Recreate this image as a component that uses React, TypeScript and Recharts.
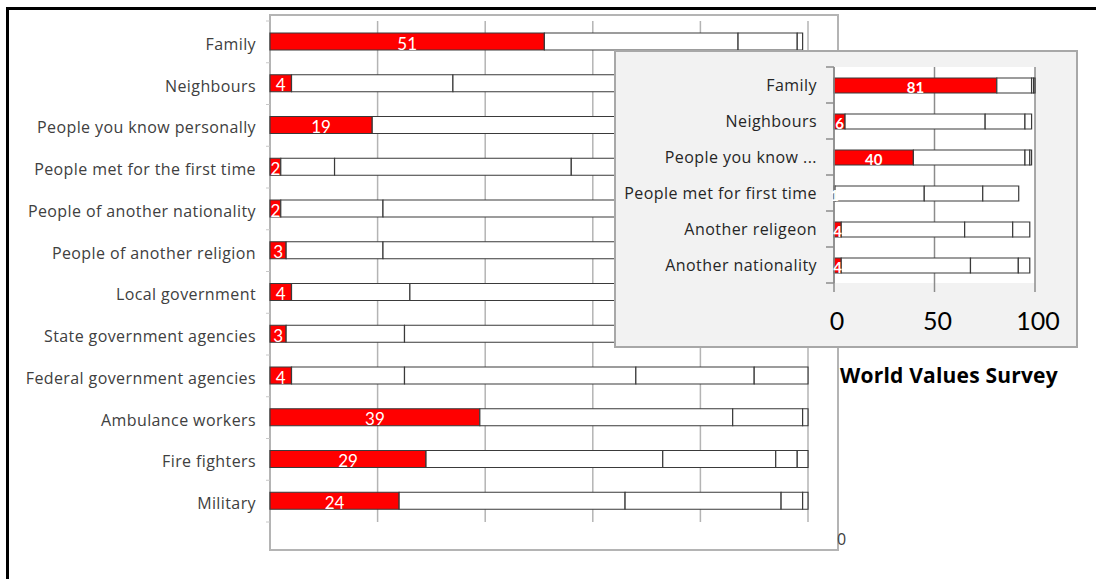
import React from "react";
import { BarChart, Bar, XAxis, YAxis, CartesianGrid, LabelList } from "recharts";

// ---------- Main chart data ----------
const mainCategories = [
  "Family",
  "Neighbours",
  "People you know personally",
  "People met for the first time",
  "People of another nationality",
  "People of another religion",
  "Local government",
  "State government agencies",
  "Federal government agencies",
  "Ambulance workers",
  "Fire fighters",
  "Military",
];
const mainS1 = [51, 4, 19, 2, 2, 3, 4, 3, 4, 39, 29, 24];
const mainS2 = [36, 30, 61, 10, 19, 18, 22, 22, 21, 47, 44, 42];
const mainS3 = [11, 46, 16, 44, 46, 47, 44, 45, 43, 13, 21, 29];
const mainS4 = [1, 16, 3, 34, 26, 25, 22, 22, 22, 1, 4, 4];
const mainS5 = [0, 3, 0, 9, 6, 6, 7, 7, 10, 0, 2, 1];
const mainTicks = [0, 20, 40, 60, 80, 100];

// ---------- Inset chart data ----------
const insetCategories = [
  "Family",
  "Neighbours",
  "People you know ...",
  "People met for first time",
  "Another religeon",
  "Another nationality",
];
const insetS1 = [81, 5.5, 39.5, 0.5, 3.6, 3.6];
const insetS2 = [17.3, 69.7, 55.5, 44.4, 61.4, 64.3];
const insetS3 = [1, 19.8, 2.4, 29.1, 23.9, 23.8];
const insetS4 = [0.7, 3.3, 0.9, 17.9, 8.5, 5.7];
const insetTicks = [0, 50, 100];

const titleText = "World Values Survey";

const mainData = mainCategories.map((name, i) => ({
  name,
  s1: mainS1[i],
  s2: mainS2[i],
  s3: mainS3[i],
  s4: mainS4[i],
  s5: mainS5[i] || null,
}));

const insetData = insetCategories.map((name, i) => ({
  name,
  s1: insetS1[i],
  s2: insetS2[i],
  s3: insetS3[i],
  s4: insetS4[i],
}));

const FONT = "'Open Sans', 'Noto Sans', sans-serif";
const LABEL_FONT = "Lato, 'Open Sans', sans-serif";
const BAR_STROKE = "#3a3a3a";

const MAIN_W = 840;
const MAIN_H = 560;
const MAIN_MARGIN = { top: 21, right: 32, bottom: 38, left: 0 };
const MAIN_BAND = (MAIN_H - MAIN_MARGIN.top - MAIN_MARGIN.bottom) / mainCategories.length;

const INSET_W = 462;
const INSET_H = 297;
const INSET_MARGIN = { top: 17, right: 42, bottom: 0, left: 0 };
const INSET_XAXIS_H = 64;
const INSET_BAND = (INSET_H - INSET_MARGIN.top - INSET_MARGIN.bottom - INSET_XAXIS_H) / insetCategories.length;

const MainTick = (props: any) => {
  const { x, y, payload, index } = props;
  return (
    <g>
      <text
        x={x}
        y={y + 2}
        textAnchor="end"
        dominantBaseline="central"
        fontFamily={FONT}
        fontSize={16}
        letterSpacing={0.4}
        fill="#404040"
      >
        {payload.value}
      </text>
      <line x1={x + 10} x2={x + 14} y1={y - MAIN_BAND / 2} y2={y - MAIN_BAND / 2} stroke="#c8c8c8" />
      {index === mainCategories.length - 1 && (
        <line x1={x + 10} x2={x + 14} y1={y + MAIN_BAND / 2} y2={y + MAIN_BAND / 2} stroke="#c8c8c8" />
      )}
    </g>
  );
};

const InsetTick = (props: any) => {
  const { x, y, payload, index } = props;
  return (
    <g>
      <text
        x={x}
        y={y}
        textAnchor="end"
        dominantBaseline="central"
        fontFamily={FONT}
        fontSize={16}
        letterSpacing={0.45}
        fill="#262626"
      >
        {payload.value}
      </text>
      <line x1={x + 9} x2={x + 17} y1={y - INSET_BAND / 2} y2={y - INSET_BAND / 2} stroke="#8c8c8c" strokeWidth={1.5} />
      {index === insetCategories.length - 1 && (
        <line x1={x + 9} x2={x + 17} y1={y + INSET_BAND / 2} y2={y + INSET_BAND / 2} stroke="#8c8c8c" strokeWidth={1.5} />
      )}
    </g>
  );
};

export default function App() {
  return (
    <div
      style={{
        position: "absolute",
        left: 0,
        top: 0,
        width: 1096,
        height: 579,
        overflow: "hidden",
        background: "#fff",
        fontFamily: FONT,
      }}
    >
      {/* outer frame (top and left edges) */}
      <div
        style={{
          position: "absolute",
          left: 6,
          top: 7,
          width: 1200,
          height: 700,
          borderTop: "3px solid #000",
          borderLeft: "3px solid #000",
        }}
      />
      {/* main chart box */}
      <div
        style={{
          position: "absolute",
          left: 269,
          top: 14,
          width: 570,
          height: 537,
          border: "2px solid #b4b4b4",
          boxSizing: "border-box",
        }}
      />
      <div style={{ position: "absolute", left: 0, top: 0 }}>
        <BarChart
          width={MAIN_W}
          height={MAIN_H}
          data={mainData}
          layout="vertical"
          margin={MAIN_MARGIN}
          barSize={17}
        >
          <CartesianGrid horizontal={false} vertical={true} stroke="#b4b4b4" strokeWidth={1.5} />
          <XAxis type="number" domain={[0, 100]} ticks={mainTicks} hide />
          <YAxis
            type="category"
            dataKey="name"
            width={270}
            axisLine={false}
            tickLine={false}
            tickSize={0}
            tickMargin={14}
            tick={<MainTick />}
            interval={0}
          />
          <Bar dataKey="s1" stackId="a" fill="#ff0000" stroke={BAR_STROKE} strokeWidth={1.2} isAnimationActive={false}>
            <LabelList dataKey="s1" position="center" fill="#ffffff" fontSize={17} fontFamily={LABEL_FONT} dy={2} />
          </Bar>
          <Bar dataKey="s2" stackId="a" fill="#ffffff" stroke={BAR_STROKE} strokeWidth={1.2} isAnimationActive={false} />
          <Bar dataKey="s3" stackId="a" fill="#ffffff" stroke={BAR_STROKE} strokeWidth={1.2} isAnimationActive={false} />
          <Bar dataKey="s4" stackId="a" fill="#ffffff" stroke={BAR_STROKE} strokeWidth={1.2} isAnimationActive={false} />
          <Bar dataKey="s5" stackId="a" fill="#ffffff" stroke={BAR_STROKE} strokeWidth={1.2} isAnimationActive={false} />
        </BarChart>
      </div>
      {/* clipped end of the main chart's last axis label */}
      <div
        style={{
          position: "absolute",
          left: 837,
          top: 529,
          fontSize: 16,
          color: "#404040",
          lineHeight: "20px",
        }}
      >
        0
      </div>
      {/* inset box */}
      <div
        style={{
          position: "absolute",
          left: 614,
          top: 50,
          width: 464,
          height: 298,
          background: "#f2f2f2",
          border: "2px solid #a8a8a8",
          boxSizing: "border-box",
        }}
      />
      <div style={{ position: "absolute", left: 615, top: 50 }}>
        <BarChart
          width={INSET_W}
          height={INSET_H}
          data={insetData}
          layout="vertical"
          margin={INSET_MARGIN}
          barSize={15}
        >
          <CartesianGrid horizontal={false} vertical={true} stroke="#8c8c8c" strokeWidth={1.5} fill="#ffffff" />
          <XAxis
            type="number"
            domain={[0, 100]}
            ticks={insetTicks}
            height={INSET_XAXIS_H}
            axisLine={false}
            tickLine={{ stroke: "#8c8c8c", strokeWidth: 1.5 }}
            tickSize={9}
            tickMargin={20}
            tick={{ fontSize: 25, fill: "#000", fontFamily: LABEL_FONT, dx: 3 }}
            interval={0}
          />
          <YAxis
            type="category"
            dataKey="name"
            width={219}
            axisLine={{ stroke: "#8c8c8c", strokeWidth: 1.5 }}
            tickLine={false}
            tickSize={0}
            tickMargin={17}
            tick={<InsetTick />}
            interval={0}
          />
          <Bar dataKey="s1" stackId="b" fill="#ff0000" stroke={BAR_STROKE} strokeWidth={1.2} isAnimationActive={false}>
            <LabelList
              dataKey="s1"
              position="center"
              fill="#ffffff"
              fontSize={15}
              fontWeight="bold"
              fontFamily={LABEL_FONT}
              dy={2}
              formatter={(v: any) => Math.round(Number(v))}
            />
          </Bar>
          <Bar dataKey="s2" stackId="b" fill="#ffffff" stroke={BAR_STROKE} strokeWidth={1.2} isAnimationActive={false} />
          <Bar dataKey="s3" stackId="b" fill="#ffffff" stroke={BAR_STROKE} strokeWidth={1.2} isAnimationActive={false} />
          <Bar dataKey="s4" stackId="b" fill="#ffffff" stroke={BAR_STROKE} strokeWidth={1.2} isAnimationActive={false} />
        </BarChart>
      </div>
      {/* title */}
      <div
        style={{
          position: "absolute",
          left: 840,
          top: 362,
          fontSize: 21,
          fontWeight: "bold",
          letterSpacing: 0.2,
          color: "#000",
          lineHeight: "26px",
          whiteSpace: "nowrap",
        }}
      >
        {titleText}
      </div>
    </div>
  );
}
